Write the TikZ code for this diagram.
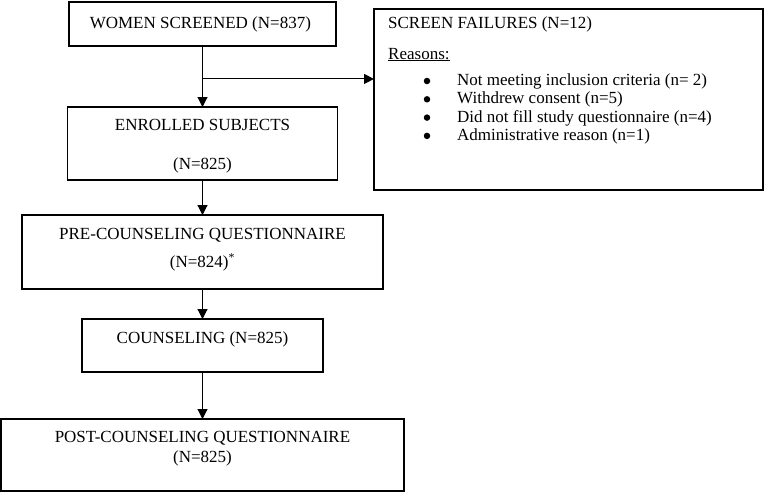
\documentclass[tikz,border=0pt]{standalone}
\usepackage{fontspec}
\setmainfont{Liberation Serif}
\usetikzlibrary{arrows.meta, positioning, calc}

\begin{document}
\begin{tikzpicture}[
    x=1pt, y=1pt,
    font=\fontsize{17}{20}\selectfont,
    entity/.style = {draw=black, rectangle, line width=1.2pt, align=center, inner sep=0pt, outer sep=0pt},
    reasonText/.style = {inner sep=0pt, anchor=base west},
    dot/.style = {circle, fill=black, minimum size=6.5pt, inner sep=0pt},
    flow/.style = {-{Triangle[length=10pt, width=10pt]}, line width=1.1pt},
    node distance=61pt
]
\useasboundingbox (0,0) rectangle (765,-493);

\node(Screened)[entity, minimum width=267pt, minimum height=44pt] at (202.5,-24) {
    WOMEN SCREENED (N=837)
};

\node(Enrolled)[entity, minimum width=270pt, minimum height=73pt, below=of Screened] {
    ENROLLED SUBJECTS\\[19pt] (N=825)\\[-28pt] \strut
};
\draw[flow] (Screened) -- (Enrolled);

\node(Failures)[entity, anchor=north west, minimum width=389pt, minimum height=181pt] at (374,-9) {};

\coordinate(Split) at ($(Screened.south)!0.54!(Enrolled.north)$);
\draw[flow] (Split) -- (Split -| Failures.west);

\node(FailTitle)[reasonText] at ($(Failures.north west)+(14,-19.5)$) {SCREEN FAILURES (N=12)};
\node(FailReasons)[reasonText] at ($(Failures.north west)+(14,-50)$) {\underline{Reasons:}};

\foreach \reason [count=\i] in {Not meeting inclusion criteria (n= 2), Withdrew consent (n=5),
    Did not fill study questionnaire (n=4), Administrative reason (n=1)} {
    \node(Bullet\i)[dot] at ($(Failures.north west)+(53,{-72-18.3*(\i-1)})$) {};
    \node(Reason\i)[reasonText] at ($(Failures.north west)+(83,{-76.5-18.3*(\i-1)})$) {\reason};
}

\node(PreQuest)[entity, minimum width=361pt, minimum height=74pt, below=35pt of Enrolled] {
    PRE-COUNSELING QUESTIONNAIRE\\[8pt] (N=824)\textsuperscript{*}\\[-18pt] \strut
};
\draw[flow] (Enrolled) -- (PreQuest);

\node(Counseling)[entity, minimum width=241pt, minimum height=53pt, below=30pt of PreQuest] {
    COUNSELING (N=825)\\[-10pt] \strut
};
\draw[flow] (PreQuest) -- (Counseling);

\node(PostQuest)[entity, minimum width=403pt, minimum height=72pt, below=47pt of Counseling] {
    POST-COUNSELING QUESTIONNAIRE\\ (N=825)\\[-10pt] \strut
};
\draw[flow] (Counseling) -- (PostQuest);

\end{tikzpicture}
\end{document}
